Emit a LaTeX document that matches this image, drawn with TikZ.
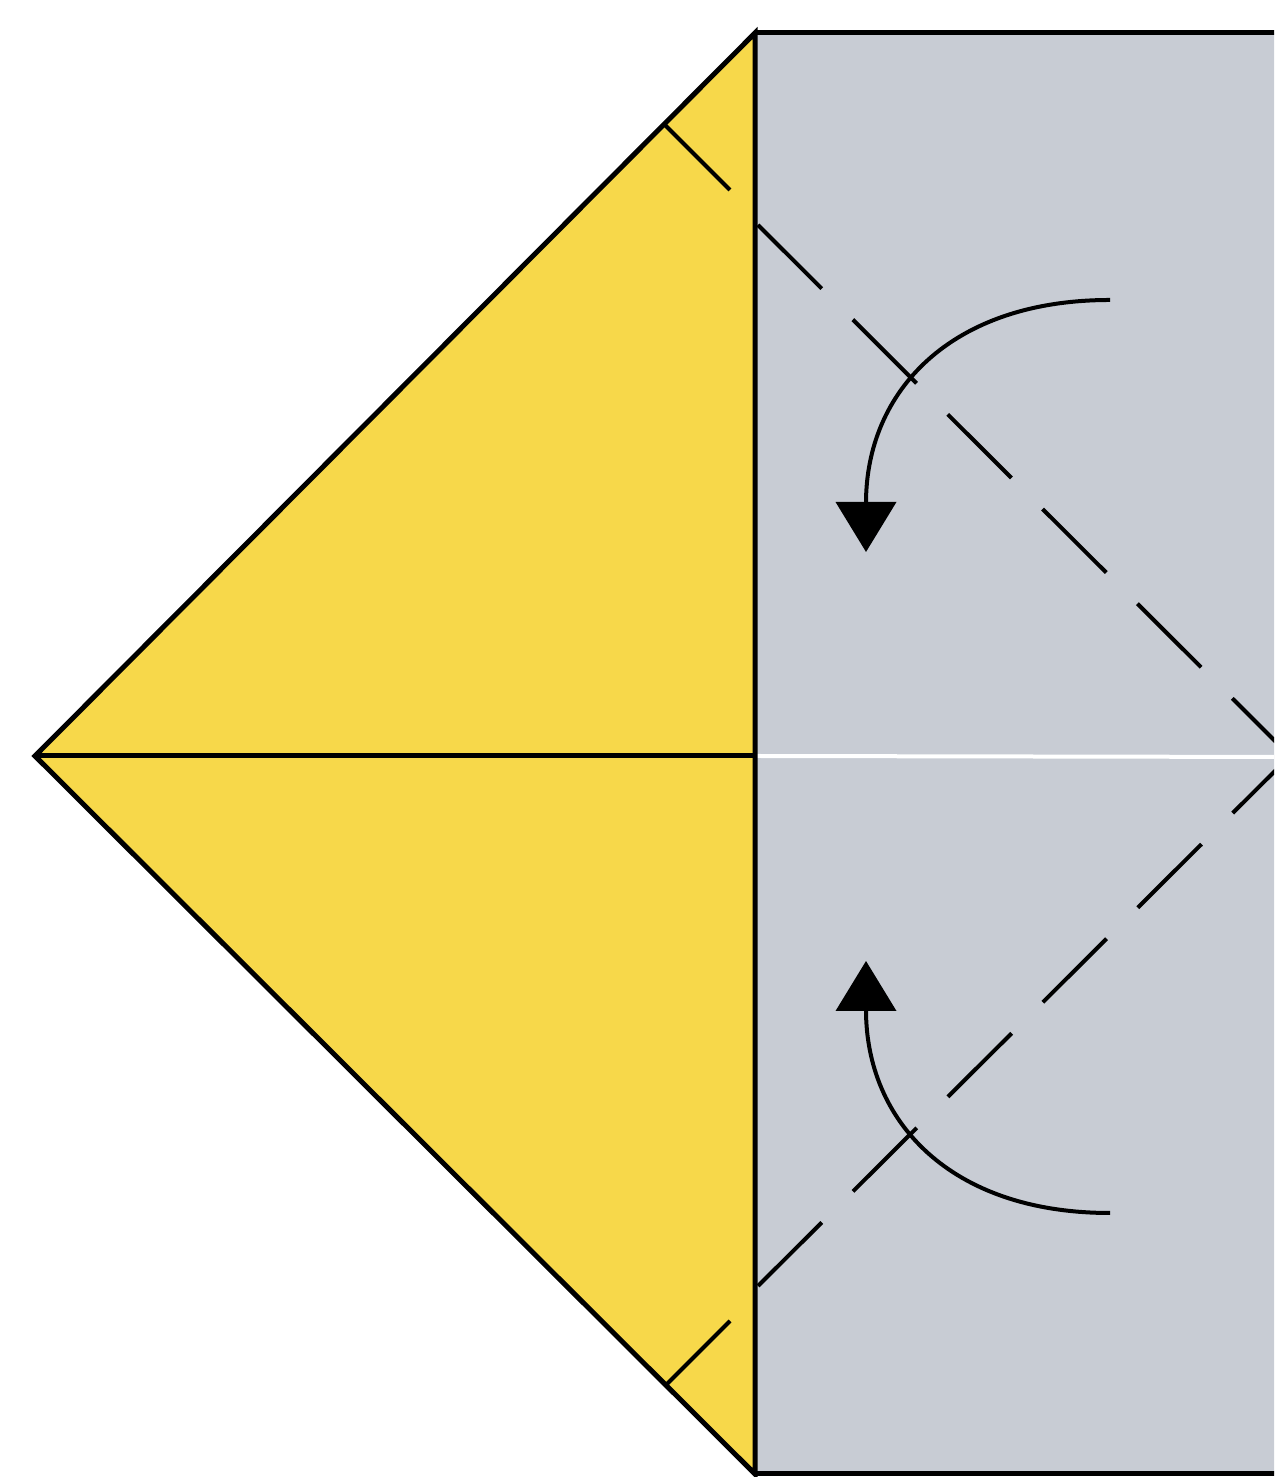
\documentclass[tikz,border=0pt]{standalone}
\usepackage{tikz}
\usetikzlibrary{arrows.meta}
\definecolor{paperyellow}{RGB}{247,216,74}
\definecolor{papergray}{RGB}{200,204,212}
\tikzset{
  paperedge/.style = {draw=black, line width=5pt, line join=miter},
  valleyline/.style = {draw=black, line width=4pt, dash pattern=on 90pt off 44pt},
  foldarrow/.style = {draw=black, line width=4pt, -{Triangle[length=50pt, width=60pt]}},
  tickmark/.style = {draw=black, line width=4pt}
}
\begin{document}
\begin{tikzpicture}[x=1pt, y=1pt]
\useasboundingbox (0,0) rectangle (1274,1477);
\clip (0,0) rectangle (1274,1477);
% corners of the paper
\coordinate (left)  at (35,721);
\coordinate (top)   at (755,1444);
\coordinate (bot)   at (755,3);
\coordinate (mid)   at (755,721);
\coordinate (topR)  at (1300,1444);
\coordinate (botR)  at (1300,3);
\coordinate (midR)  at (1300,720);

% grey square
\fill[papergray] (top) rectangle (botR);
\draw[paperedge] (top) -- (topR);
\draw[paperedge] (bot) -- (botR);
\draw[white, line width=4pt] (mid) -- (midR);

% yellow flaps
\filldraw[fill=paperyellow, paperedge] (left) -- (top) -- (bot) -- cycle;
\draw[paperedge] (left) -- (mid);

% equal-length ticks
\coordinate (tkA) at (665,1352);
\coordinate (tkB) at (730,1287);
\coordinate (tkC) at (665,91);
\coordinate (tkD) at (730,156);
\draw[tickmark] (tkA) -- (tkB);
\draw[tickmark] (tkC) -- (tkD);

% valley folds
\coordinate (vfA) at (758,1252);
\coordinate (vfB) at (758,191);
\coordinate (apex) at (1290,721);
\draw[valleyline] (vfA) -- (apex);
\draw[valleyline] (vfB) -- (apex);

% fold arrows
\coordinate (upS) at (1110,1177);
\coordinate (upE) at (866,925);
\coordinate (loS) at (1110,264);
\coordinate (loE) at (866,516);
\draw[foldarrow] (upS) .. controls (950,1177) and (866,1085) .. (upE);
\draw[foldarrow] (loS) .. controls (950,264) and (866,356) .. (loE);
\end{tikzpicture}
\end{document}
